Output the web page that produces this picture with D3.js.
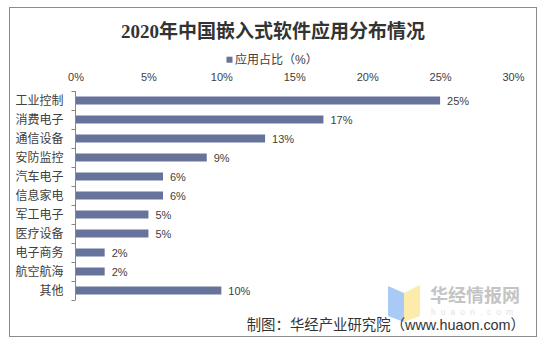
<!DOCTYPE html>
<html><head><meta charset="utf-8">
<script src="https://cdn.jsdelivr.net/npm/d3@7"></script>
<style>body{margin:0;background:#fff}svg{display:block}</style>
</head><body>
<svg id="c" width="546" height="343"></svg>
<script>
const categories = ["工业控制","消费电子","通信设备","安防监控","汽车电子","信息家电","军工电子","医疗设备","电子商务","航空航海","其他"];
const values = [25,17,13,9,6,6,5,5,2,2,10];
const xTicks = [0,5,10,15,20,25,30];
const seriesName = "应用占比（%）";
const titleText = "2020年中国嵌入式软件应用分布情况";
const sourceText = "制图：华经产业研究院（www.huaon.com）";

const svg = d3.select("#c");
const cjk = "'Liberation Sans','Noto Sans CJK SC',sans-serif";
const txt = "#404040";
const barColor = "#67739a";

// frame
svg.append("rect").attr("x",9.5).attr("y",7.5).attr("width",527).attr("height",329)
  .attr("fill","#fff").attr("stroke","#8c8c8c").attr("stroke-width",1);

// title
svg.append("text").attr("x",273).attr("y",31).attr("text-anchor","middle")
  .attr("dominant-baseline","central")
  .style("font-family","'Liberation Serif','Noto Sans CJK SC',serif")
  .style("font-weight","bold").style("font-size","19px").attr("fill","#333")
  .text(titleText);

// legend
svg.append("rect").attr("x",226.5).attr("y",56.7).attr("width",6).attr("height",6).attr("fill",barColor);
svg.append("text").attr("x",235).attr("y",60).attr("dominant-baseline","central")
  .style("font-family",cjk).style("font-size","12px").attr("fill",txt).text(seriesName);

const x = d3.scaleLinear().domain([0,30]).range([75.5,513]);
const y = d3.scaleBand().domain(categories).range([91,300]).paddingInner(0.58).paddingOuter(0.29);

// top axis labels
const gx = svg.append("g").attr("transform","translate(0,77)")
  .call(d3.axisTop(x).tickValues(xTicks).tickSize(0).tickPadding(0).tickFormat(d=>d+"%"));
gx.select(".domain").remove();
gx.selectAll("text").attr("y",0).attr("dy",null).attr("dominant-baseline","central")
  .style("font-family","'Liberation Sans',sans-serif").style("font-size","11px").attr("fill",txt);

// bars
svg.append("g").selectAll("rect").data(values).join("rect")
  .attr("x",x(0)).attr("y",(d,i)=>y(categories[i]))
  .attr("width",d=>x(d)-x(0)).attr("height",y.bandwidth()).attr("fill",barColor);

// value labels
svg.append("g").selectAll("text").data(values).join("text")
  .attr("x",d=>x(d)+7).attr("y",(d,i)=>y(categories[i])+y.bandwidth()/2)
  .attr("dominant-baseline","central")
  .style("font-family","'Liberation Sans',sans-serif").style("font-size","11px").attr("fill",txt)
  .text(d=>d+"%");

// left axis labels
const gy = svg.append("g").attr("transform",`translate(${x(0)},0)`)
  .call(d3.axisLeft(y).tickSize(0).tickPadding(12));
gy.select(".domain").remove();
gy.selectAll("text").style("font-family",cjk).style("font-size","12px").attr("fill",txt)
  .attr("dy",null).attr("dominant-baseline","central");

// axis line with boundary ticks
const r0 = y.range()[0], r1 = y.range()[1];
const bounds = d3.range(categories.length+1).map(i=>r0 + i*(r1-r0)/categories.length);
const ax = svg.append("g").attr("stroke","#868686").attr("stroke-width",1).attr("fill","none");
ax.append("line").attr("x1",x(0)).attr("x2",x(0)).attr("y1",r0).attr("y2",r1);
ax.selectAll("line.t").data(bounds).join("line").attr("class","t")
  .attr("x1",x(0)-4).attr("x2",x(0)).attr("y1",d=>Math.round(d)+0.5).attr("y2",d=>Math.round(d)+0.5);

// watermark
const wm = svg.append("g");
wm.append("polygon").attr("points","388,286 404,293 404,322 388,316").attr("fill","#a9c9f7");
wm.append("polygon").attr("points","404,293 420,285 420,316 404,322").attr("fill","#fcebab");
wm.append("text").attr("x",430).attr("y",294).attr("dominant-baseline","central")
  .style("font-family","'Noto Sans CJK SC',sans-serif").style("font-weight","bold")
  .style("font-size","18px").attr("fill","#c4c4c4").text("华经情报网");
wm.append("text").attr("x",431).attr("y",311.5).attr("dominant-baseline","central")
  .style("font-family","'Liberation Sans',sans-serif").style("font-size","8.5px")
  .style("letter-spacing","5px").attr("fill","#e2e2e2").text("huaon.com");

// source
svg.append("text").attr("x",525).attr("y",325).attr("text-anchor","end").attr("dominant-baseline","central")
  .style("font-family",cjk).style("font-size","14.4px").attr("fill","#333").text(sourceText);
</script>
</body></html>
